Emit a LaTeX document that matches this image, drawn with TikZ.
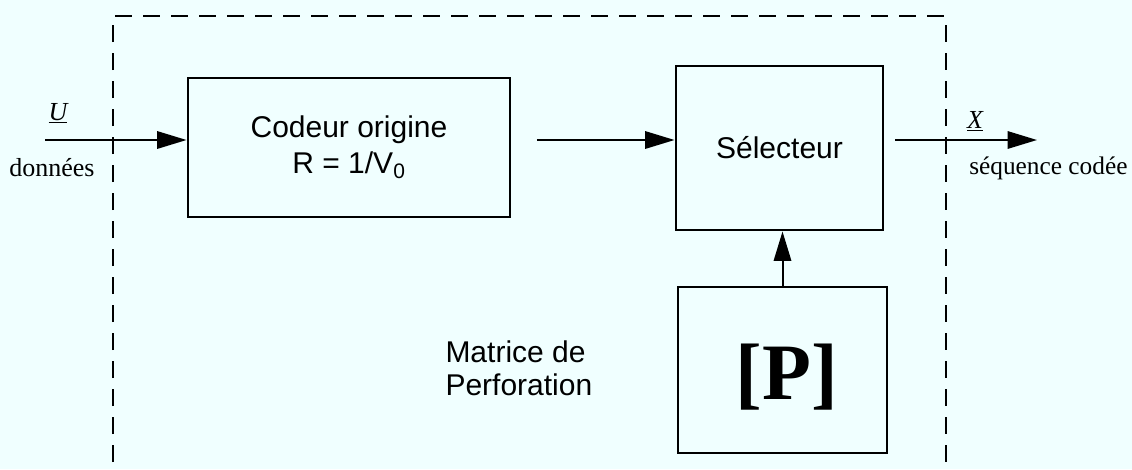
\documentclass[tikz,border=0pt]{standalone}
\usepackage{fontspec}
\setmainfont{Liberation Serif}
\setsansfont{Liberation Sans}
\usetikzlibrary{arrows.meta}

\definecolor{paper}{RGB}{240,255,255}

\tikzset{every picture/.style={line width=0.75pt}}
\tikzset{
  bloc/.style={draw, line width=2.2pt, inner sep=0pt, font=\sffamily\fontsize{22.5}{27}\selectfont, align=center},
  flow/.style={line width=1.5pt, -{Triangle[length=22pt,width=13pt]}},
  lbl/.style={inner sep=0.75pt, font=\fontsize{19.5}{24}\selectfont}
}

\begin{document}
\begin{tikzpicture}[x=0.75pt,y=0.75pt,yscale=-1,xscale=1]
%set diagram left start at 0, and has height of 469
\useasboundingbox (0,0) rectangle (1132,469);
\fill [paper] (0,0) rectangle (1132,469);
\clip (0,0) rectangle (1132,469);

%Shape: Rectangle, dashed frame (runs past the bottom edge)
\draw [line width=1.5pt, dash pattern={on 13pt off 8pt}] (113,490) -- (113,16) -- (946,16) -- (946,490) ;

%Shape: Rectangle [codeur]
\node [bloc, minimum width=241.5pt, minimum height=104.25pt] (codeur) at (349,147.5) {Codeur origine\\R = 1/V\textsubscript{0}};
%Shape: Rectangle [selecteur]
\node [bloc, minimum width=155.25pt, minimum height=123pt] (selecteur) at (779.5,148) {S\'electeur};
%Shape: Rectangle [matrice]
\node [bloc, minimum width=156.75pt, minimum height=124.5pt] (matrice) at (782.5,370) {};
% Text Node
\node [inner sep=0pt, font=\bfseries\fontsize{60}{60}\selectfont] (perfo) at (787,377) {[P]};

%Straight Lines, ends of the chain
\coordinate (entree) at (45,140);
\coordinate (sortie) at (1037,140);

%Straight Lines [flows]
\draw [flow] (entree) -- (entree -| codeur.west) ;
\draw [flow, shorten <=19pt] (entree -| codeur.east) -- (entree -| selecteur.west) ;
\draw [flow, shorten <=8pt] (entree -| selecteur.east) -- (sortie) ;
\draw [flow] (matrice.north) -- (matrice.north |- selecteur.south) ;

% Text Node
\node [lbl] (u) at (58,113) {\textit{\underline{U}}};
% Text Node
\node [lbl] (donnees) at (52,168) {donn\'ees};
% Text Node
\node [lbl] (x) at (975,121) {\textit{\underline{X}}};
% Text Node
\node [lbl, anchor=east, font=\fontsize{19}{24}\selectfont] (sequence) at (1129,168) {s\'equence cod\'ee};
% Text Node
\node [lbl, anchor=west, align=left, font=\sffamily\fontsize{22.5}{25}\selectfont] (matlabel) at (444,368) {Matrice de\\Perforation};

\end{tikzpicture}
\end{document}
